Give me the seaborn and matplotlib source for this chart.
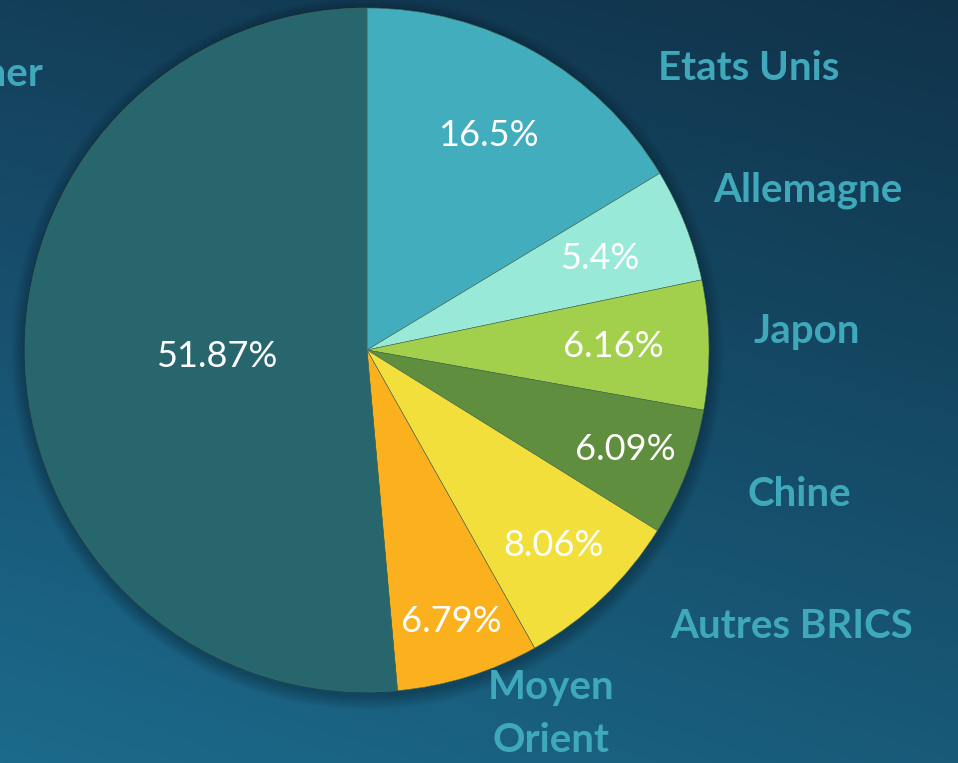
#!/usr/bin/env python3
"""Camembert : répartition par zone (fond dégradé bleu)"""

import numpy as np
import matplotlib
matplotlib.use("Agg")
import matplotlib.pyplot as plt
from matplotlib.patches import Circle
import seaborn as sns

# données
zones = ["Etats Unis", "Allemagne", "Japon", "Chine", "Autres BRICS", "Moyen\nOrient", "Other"]
parts = [16.5, 5.4, 6.16, 6.09, 8.06, 6.79, 51.87]
pct_labels = ["16.5%", "5.4%", "6.16%", "6.09%", "8.06%", "6.79%", "51.87%"]
couleurs = ["#42adbd", "#98e9d8", "#a3d04c", "#5f8f3e", "#f3df3b", "#fbb11e", "#28666e"]

# distance radiale des pourcentages (fraction du rayon)
pct_dist = [0.72, 0.73, 0.72, 0.81, 0.79, 0.83, 0.44]
# positions des étiquettes extérieures (pixels, origine en haut à gauche)
label_pos = [(749, 68, "center"), (808, 190, "center"), (807, 332, "center"),
             (799, 494, "center"), (792, 626, "center"), (551, 714, "center"),
             (43, 75, "right")]

W, H, DPI = 958, 763, 100

sns.set_theme(style="white")
plt.rcParams["font.family"] = ["Lato", "DejaVu Sans"]

fig = plt.figure(figsize=(W / DPI, H / DPI), dpi=DPI)

# fond dégradé
bg = fig.add_axes([0, 0, 1, 1])
yy, xx = np.mgrid[0:1:200j, 0:1:200j]
c_tl = np.array([0x14, 0x3f, 0x5a]) / 255
c_tr = np.array([0x10, 0x33, 0x4a]) / 255
c_bl = np.array([0x1c, 0x6a, 0x8c]) / 255
c_br = np.array([0x18, 0x5a, 0x78]) / 255
grad = ((1 - xx)[..., None] * (1 - yy)[..., None] * c_tl + xx[..., None] * (1 - yy)[..., None] * c_tr
        + (1 - xx)[..., None] * yy[..., None] * c_bl + xx[..., None] * yy[..., None] * c_br)
bg.imshow(grad, aspect="auto", extent=[0, 1, 1, 0])
bg.set_axis_off()

# camembert
cx, cy, r = 367, 350, 342
ax = fig.add_axes([(cx - r) / W, (H - cy - r) / H, 2 * r / W, 2 * r / H])
ax.set_facecolor("none")

# ombre portée (légère)
for k in range(8):
    ax.add_patch(Circle((0.0, -0.01), 1.0 + 0.005 * (k + 1), color="#06151f",
                        alpha=0.045, lw=0, zorder=0, clip_on=False))

wedges, _ = ax.pie(parts, colors=sns.color_palette(couleurs), startangle=90,
                   counterclock=False, radius=1,
                   wedgeprops=dict(linewidth=0.4, edgecolor="#4a6a50"))
for w in wedges:
    w.set_zorder(2)
    w.set_clip_on(False)

for w, txt, d in zip(wedges, pct_labels, pct_dist):
    ang = np.deg2rad((w.theta1 + w.theta2) / 2)
    ax.text(d * np.cos(ang), d * np.sin(ang), txt, ha="center", va="center",
            color="white", fontsize=26, zorder=3)

ax.set_xlim(-1, 1)
ax.set_ylim(-1, 1)
ax.set_axis_off()

for name, (px, py, ha) in zip(zones, label_pos):
    fig.text(px / W, 1 - py / H, name, ha=ha, va="center", color="#3fa9bb",
             fontsize=29, fontweight="bold", linespacing=1.5)

fig.savefig("out.png", dpi=DPI)
